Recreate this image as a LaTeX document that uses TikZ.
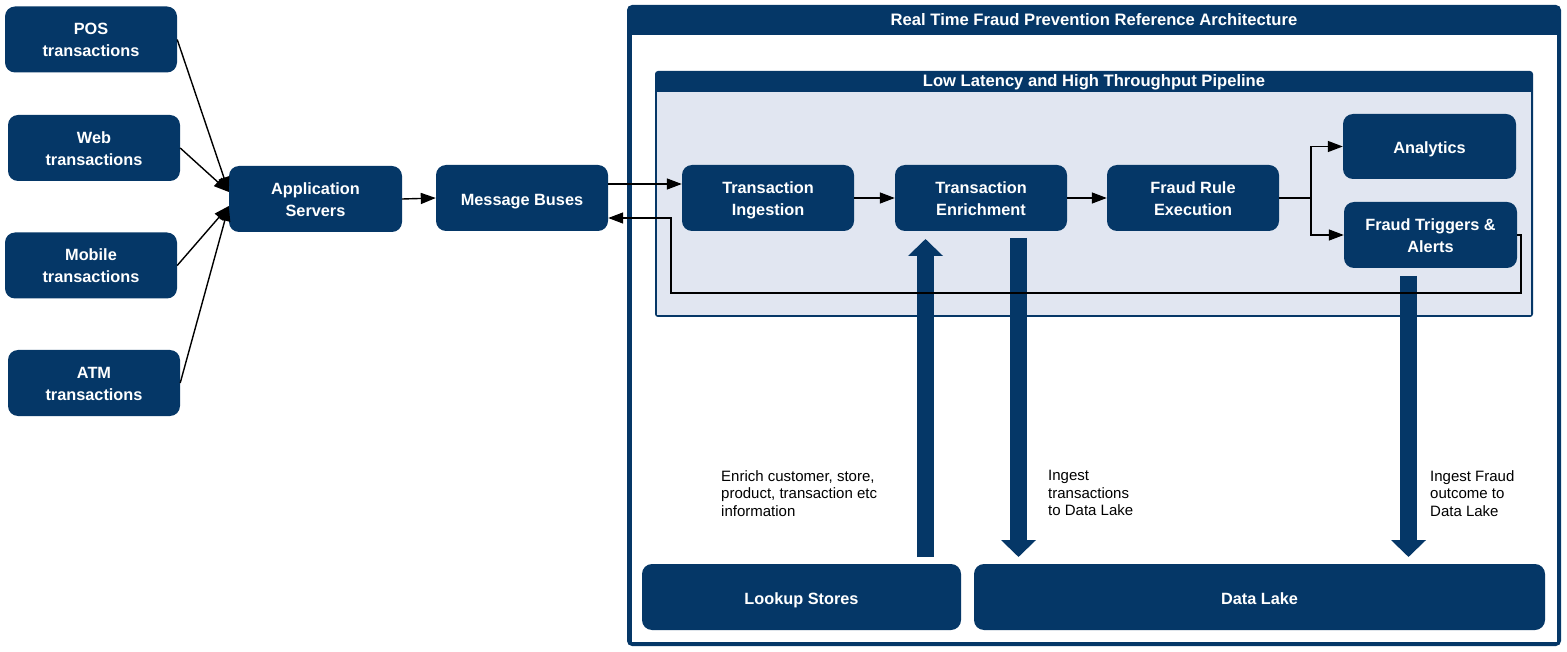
\documentclass[tikz,border=0pt]{standalone}
\usepackage{fontspec}
\setmainfont{Liberation Sans}
\usetikzlibrary{arrows.meta}
\definecolor{navy}{HTML}{053767}
\definecolor{pipefill}{HTML}{E1E6F1}
\newcommand\firstln{\rule{0pt}{19.5pt}}
\begin{document}
\begin{tikzpicture}[x=1pt,y=-1pt,
  box/.style={fill=navy, rounded corners=10pt, text=white,
    font=\fontsize{16.3}{22}\selectfont\bfseries, align=center, inner sep=0pt,
    minimum width=172pt, minimum height=66pt,
    execute at begin node={\rule{0pt}{21pt}}, execute at end node=\strut},
  title/.style={text=white, font=\fontsize{16.6}{19}\selectfont\bfseries, inner sep=0pt},
  arr/.style={line width=1.4pt, -{Triangle[length=15pt,width=11pt]}},
  bigarr/.style={draw=navy, line width=17pt, -{Triangle[length=17pt,width=34pt]}},
  lbl/.style={font=\fontsize{15}{17.6}\selectfont, align=left, anchor=north west, inner sep=0pt}]

\useasboundingbox (0,0) rectangle (1567,652);

% outer frame
\fill[navy, rounded corners=5pt] (627,5) rectangle (1561,646);
\fill[white] (631.5,35) rectangle (1556.5,641.5);
\node[title] (ttl) at (1094,20) {Real Time Fraud Prevention Reference Architecture};

% pipeline frame
\fill[navy, rounded corners=3pt] (655,71) rectangle (1533,317);
\fill[pipefill] (657,92) rectangle (1531,315);
\node[title] (ptl) at (1094,82) {Low Latency and High Throughput Pipeline};

% big arrows
\coordinate (lkA) at (925.5,557);
\coordinate (lkB) at (925.5,239);
\coordinate (teA) at (1018.5,238);
\coordinate (teB) at (1018.5,557);
\coordinate (ftA) at (1408.5,276);
\coordinate (ftB) at (1408.5,557);
\draw[bigarr] (lkA) -- (lkB);
\draw[bigarr] (teA) -- (teB);
\draw[bigarr] (ftA) -- (ftB);

% sources
\node[box] (pos) at (91,39.5) {\firstln POS\\transactions};
\node[box] (web) at (94,148) {\firstln Web\\transactions};
\node[box] (mob) at (91,265.5) {\firstln Mobile\\transactions};
\node[box] (atm) at (94,383) {\firstln ATM\\transactions};
\node[box, minimum width=173pt] (app) at (315.5,199) {\firstln Application\\Servers};
\node[box] (mb) at (522,198) {Message Buses};

% pipeline nodes
\node[box] (ti) at (768,198) {\firstln Transaction\\Ingestion};
\node[box] (te) at (981,198) {\firstln Transaction\\Enrichment};
\node[box] (fre) at (1193,198) {\firstln Fraud Rule\\Execution};
\node[box, minimum width=173pt, minimum height=65pt] (an) at (1429.5,146.5) {Analytics};
\node[box, minimum width=173pt] (fta) at (1430.5,235) {\firstln Fraud Triggers \&\\Alerts};

% stores
\node[box, minimum width=319pt] (lk) at (801.5,597) {Lookup Stores};
\node[box, minimum width=571pt] (dl) at (1259.5,597) {Data Lake};

% labels
\node[lbl] (l1) at (721,470) {Enrich customer, store,\\product, transaction etc\\information};
\node[lbl] (l2) at (1048,470) {Ingest\\transactions\\to Data Lake};
\node[lbl] (l3) at (1430,470) {Ingest Fraud\\outcome to\\Data Lake};

% connectors
\draw[arr] (pos.east) -- ([yshift=7pt]app.west);
\draw[arr] (web.east) -- ([yshift=7pt]app.west);
\draw[arr] (mob.east) -- ([yshift=-7pt]app.west);
\draw[arr] (atm.east) -- ([yshift=-7pt]app.west);
\draw[arr] (app.east) -- (mb.west);
\draw[arr] ([yshift=14pt]mb.east) -- ([yshift=14pt]ti.west);
\draw[arr] (ti.east) -- (te.west);
\draw[arr] (te.east) -- (fre.west);
\coordinate (br) at (1311,198);
\draw[line width=1.4pt] (fre.east) -- (br);
\draw[arr] (br) |- (an.west);
\draw[arr] (br) |- (fta.west);
\coordinate (fbr) at (1521,293);
\coordinate (fbl) at (671,293);
\draw[arr] (fta.east) -| (fbr) -- (fbl) |- ([yshift=-20pt]mb.east);
\end{tikzpicture}
\end{document}
